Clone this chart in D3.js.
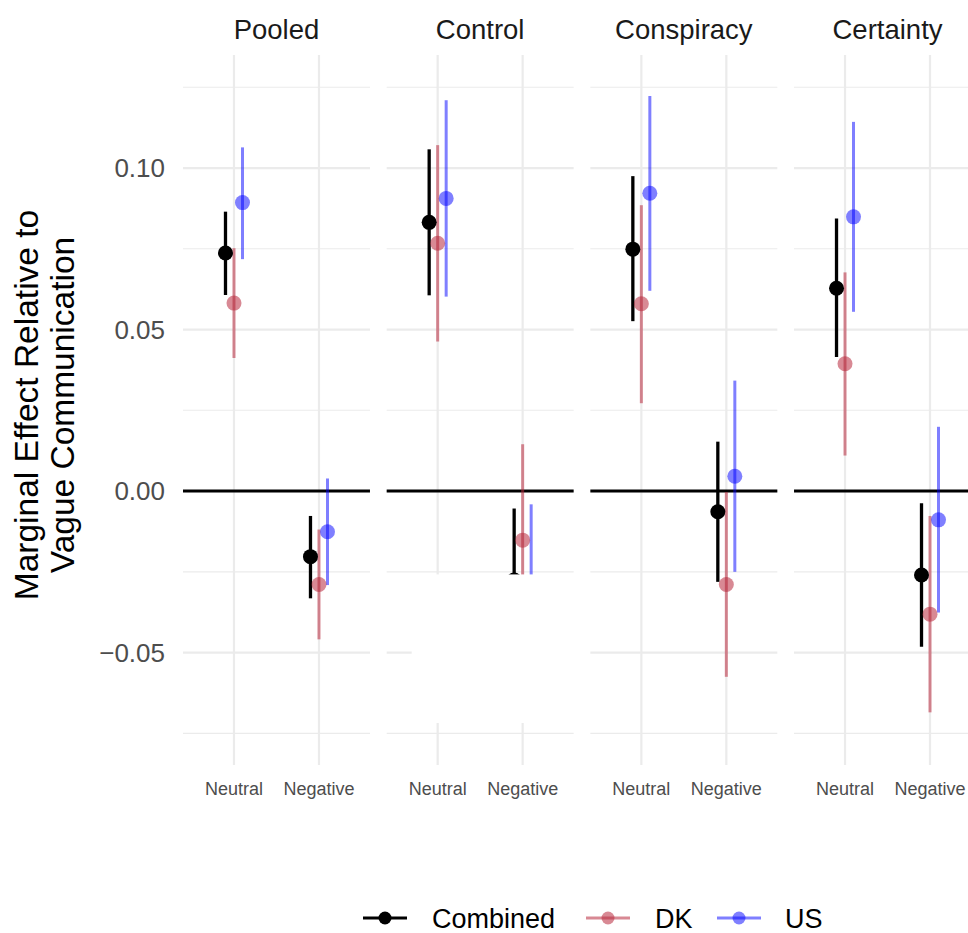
<!DOCTYPE html>
<html>
<head>
<meta charset="utf-8">
<script src="https://cdn.jsdelivr.net/npm/d3@7"></script>
<style>
  body { margin: 0; background: #fff; }
  svg { font-family: "Liberation Sans", Arial, sans-serif; }
</style>
</head>
<body>
<svg id="chart" width="968" height="933"></svg>
<script>
const facets = ["Pooled", "Control", "Conspiracy", "Certainty"];
const conditions = ["Neutral", "Negative"];
const seriesNames = ["Combined", "DK", "US"];
const yTicks = [-0.05, 0, 0.05, 0.10];
const yTickLabels = ["\u22120.05", "0.00", "0.05", "0.10"];
const yMinor = [-0.075, -0.025, 0.025, 0.075, 0.125];

// order: Pooled-Neutral, Pooled-Negative, Control-Neutral, Control-Negative, ...
const combinedEst = [0.0737, -0.0203, 0.0832, -0.0275, 0.0749, -0.0064, 0.0628, -0.0260];
const combinedLow = [0.0607, -0.0332, 0.0606, -0.0495, 0.0526, -0.0281, 0.0415, -0.0482];
const combinedHigh = [0.0865, -0.0077, 0.1058, -0.0054, 0.0975, 0.0153, 0.0844, -0.0038];

const dkEst = [0.0582, -0.0289, 0.0767, -0.0152, 0.0580, -0.0289, 0.0394, -0.0381];
const dkLow = [0.0412, -0.0459, 0.0463, -0.0449, 0.0272, -0.0575, 0.0110, -0.0685];
const dkHigh = [0.0752, -0.0119, 0.1071, 0.0145, 0.0885, -0.0003, 0.0677, -0.0077];

const usEst = [0.0893, -0.0126, 0.0906, -0.0334, 0.0922, 0.0046, 0.0849, -0.0089];
const usLow = [0.0718, -0.0291, 0.0602, -0.0627, 0.0620, -0.0250, 0.0555, -0.0376];
const usHigh = [0.1064, 0.0039, 0.1210, -0.0041, 0.1223, 0.0342, 0.1143, 0.0199];

const colors = { Combined: "#000000", DK: "#b8283c", US: "#0000ff" };
const alphas = { Combined: 1, DK: 0.55, US: 0.5 };

const seriesData = {
  Combined: [combinedEst, combinedLow, combinedHigh],
  DK: [dkEst, dkLow, dkHigh],
  US: [usEst, usLow, usHigh]
};

const rows = [];
seriesNames.forEach(s => {
  const [est, lo, hi] = seriesData[s];
  facets.forEach((f, fi) => {
    conditions.forEach((c, ci) => {
      const i = fi * 2 + ci;
      rows.push({ series: s, facet: f, cond: c, est: est[i], lo: lo[i], hi: hi[i] });
    });
  });
});

const svg = d3.select("#chart");

const fx = d3.scaleBand().domain(facets).range([183, 981]).paddingInner(0.082);
const panelW = fx.bandwidth();
const x = d3.scalePoint().domain(conditions).range([0, panelW]).padding(0.6);
const dodge = d3.scalePoint().domain(seriesNames).range([-8.5, 8.5]);
const y = d3.scaleLinear().domain([-0.0848, 0.135]).range([765, 55]);

// y axis labels
svg.append("g").selectAll("text")
  .data(yTicks)
  .join("text")
  .attr("x", 165)
  .attr("y", d => y(d))
  .attr("dy", "0.36em")
  .attr("text-anchor", "end")
  .attr("font-size", 26)
  .attr("fill", "#4d4d4d")
  .text((d, i) => yTickLabels[i]);

// y title
const title = svg.append("text")
  .attr("transform", "translate(0,405) rotate(-90)")
  .attr("text-anchor", "middle")
  .attr("font-size", 33.5)
  .attr("fill", "#000");
title.append("tspan").attr("x", 0).attr("y", 38).text("Marginal Effect Relative to");
title.append("tspan").attr("x", 0).attr("y", 74).text("Vague Communication");

facets.forEach(f => {
  const g = svg.append("g").attr("transform", `translate(${fx(f)},0)`);

  g.selectAll(".minor")
    .data(yMinor)
    .join("line")
    .attr("x1", 0).attr("x2", panelW)
    .attr("y1", d => y(d)).attr("y2", d => y(d))
    .attr("stroke", "#ebebeb").attr("stroke-width", 1.1);

  g.selectAll(".major")
    .data(yTicks)
    .join("line")
    .attr("x1", 0).attr("x2", panelW)
    .attr("y1", d => y(d)).attr("y2", d => y(d))
    .attr("stroke", "#ebebeb").attr("stroke-width", 2.2);

  g.selectAll(".vgrid")
    .data(conditions)
    .join("line")
    .attr("x1", d => x(d)).attr("x2", d => x(d))
    .attr("y1", y.range()[1]).attr("y2", y.range()[0])
    .attr("stroke", "#ebebeb").attr("stroke-width", 2.2);

  // zero reference line
  g.append("line")
    .attr("x1", 0).attr("x2", panelW)
    .attr("y1", y(0)).attr("y2", y(0))
    .attr("stroke", "#000").attr("stroke-width", 3);

  const pd = rows.filter(r => r.facet === f);

  g.selectAll(".bar")
    .data(pd)
    .join("line")
    .attr("x1", d => x(d.cond) + dodge(d.series))
    .attr("x2", d => x(d.cond) + dodge(d.series))
    .attr("y1", d => y(d.lo)).attr("y2", d => y(d.hi))
    .attr("stroke", d => colors[d.series])
    .attr("stroke-opacity", d => alphas[d.series])
    .attr("stroke-width", d => d.series === "Combined" ? 3.3 : 3);

  g.selectAll(".pt")
    .data(pd)
    .join("circle")
    .attr("cx", d => x(d.cond) + dodge(d.series))
    .attr("cy", d => y(d.est))
    .attr("r", 7.5)
    .attr("fill", d => colors[d.series])
    .attr("fill-opacity", d => alphas[d.series]);

  // the reference has a blank patch over the lower Control panel
  if (f === "Control") {
    g.append("rect")
      .attr("x", 25).attr("y", y(-0.0258))
      .attr("width", panelW - 20).attr("height", y(-0.0718) - y(-0.0258))
      .attr("fill", "#fff");
  }

  g.append("text")
    .attr("x", panelW / 2).attr("y", 39)
    .attr("text-anchor", "middle")
    .attr("font-size", 27.5)
    .attr("fill", "#1a1a1a")
    .text(f);

  g.selectAll(".xlab")
    .data(conditions)
    .join("text")
    .attr("x", d => x(d)).attr("y", 795)
    .attr("text-anchor", "middle")
    .attr("font-family", "'Liberation Sans Narrow', 'Arial Narrow', sans-serif")
    .attr("font-size", 18)
    .attr("fill", "#4d4d4d")
    .text(d => d);
});

// legend
const legendX = [385, 608, 739];
const legendTextX = [432, 655, 785];
const lg = svg.append("g").attr("transform", "translate(0,918)");
seriesNames.forEach((s, i) => {
  lg.append("line")
    .attr("x1", legendX[i] - 22).attr("x2", legendX[i] + 22)
    .attr("stroke", colors[s]).attr("stroke-opacity", alphas[s]).attr("stroke-width", 3);
  lg.append("circle")
    .attr("cx", legendX[i]).attr("r", 6.5)
    .attr("fill", colors[s]).attr("fill-opacity", alphas[s]);
  lg.append("text")
    .attr("x", legendTextX[i]).attr("dy", "0.36em")
    .attr("font-size", 27)
    .attr("fill", "#000")
    .text(s);
});
</script>
</body>
</html>
